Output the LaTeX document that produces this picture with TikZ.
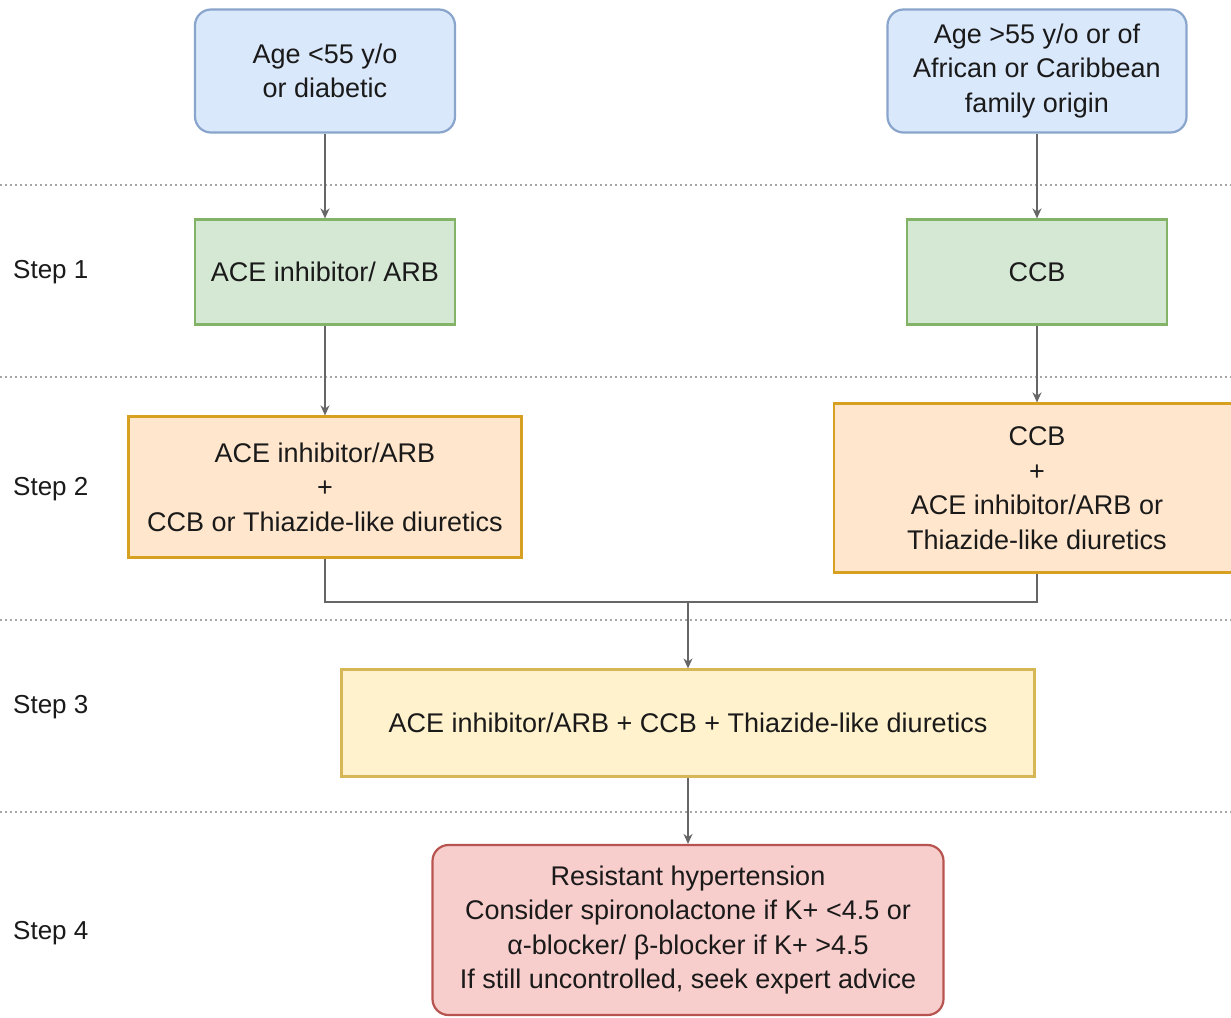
\documentclass[tikz,border=0pt]{standalone}
\usepackage{fontspec}
\setmainfont{Liberation Sans}
\usetikzlibrary{arrows.meta}
\definecolor{bluef}{HTML}{DAE8FC}\definecolor{blued}{HTML}{6C8EBF}
\definecolor{greenf}{HTML}{D5E8D4}\definecolor{greend}{HTML}{82B366}
\definecolor{orangef}{HTML}{FFE6CC}\definecolor{oranged}{HTML}{D7A020}
\definecolor{yellowf}{HTML}{FFF2CC}\definecolor{yellowd}{HTML}{D6B656}
\definecolor{redf}{HTML}{F8CECC}\definecolor{redd}{HTML}{B85450}
\definecolor{txt}{HTML}{1A1A1A}
\tikzset{
  box/.style={draw, line width=2.2pt, align=center, inner sep=0pt, text=txt,
    font=\fontsize{27}{34.5}\selectfont},
  bluebox/.style={box, fill=bluef, draw=blued!80, rounded corners=16pt},
  greenbox/.style={box, fill=greenf, draw=greend},
  orangebox/.style={box, fill=orangef, draw=oranged},
  yellowbox/.style={box, fill=yellowf, draw=yellowd},
  redbox/.style={box, fill=redf, draw=redd, rounded corners=16pt},
  steplabel/.style={anchor=west, text=txt, font=\fontsize{26}{30}\selectfont, inner sep=0pt},
  sep/.style={draw=gray!70, line width=2pt, dash pattern=on 2pt off 3pt},
  conn/.style={draw=black!60, line width=2pt, -{Stealth[length=10pt,width=9pt]}},
  plain/.style={draw=black!60, line width=2pt},
}
\begin{document}
\begin{tikzpicture}[x=1pt,y=-1pt]
\useasboundingbox[fill=white] (0,0) rectangle (1231,1017);
% separators
\foreach \yy in {185,377,620,812}{\draw[sep] (0,\yy) -- (1231,\yy);}
% step labels
\node[steplabel] (s1) at (13,272) {Step 1};
\node[steplabel] (s2) at (13,489) {Step 2};
\node[steplabel] (s3) at (13,707) {Step 3};
\node[steplabel] (s4) at (13,933) {Step 4};
% nodes
\node[bluebox, minimum width=260pt, minimum height=123pt] (a1) at (325,71) {Age <55 y/o\\or diabetic};
\node[bluebox, minimum width=299pt, minimum height=123pt] (b1) at (1037,71) {Age >55 y/o or of\\African or Caribbean\\family origin};
\node[greenbox, minimum width=260pt, minimum height=105pt] (a2) at (325,272) {ACE inhibitor/ ARB};
\node[greenbox, minimum width=260pt, minimum height=105pt] (b2) at (1037,272) {CCB};
\node[orangebox, minimum width=393pt, minimum height=141pt] (a3) at (325,487) {ACE inhibitor/ARB\\+\\CCB or Thiazide-like diuretics};
\node[orangebox, minimum width=406pt, minimum height=169pt] (b3) at (1037,488) {CCB\\+\\ACE inhibitor/ARB or\\Thiazide-like diuretics};
\node[yellowbox, minimum width=693pt, minimum height=107pt] (c) at (688,723) {ACE inhibitor/ARB + CCB + Thiazide-like diuretics};
\node[redbox, minimum width=511pt, minimum height=170pt] (d) at (688,930) {Resistant hypertension\\Consider spironolactone if K+ <4.5 or\\α-blocker/ β-blocker if K+ >4.5\\If still uncontrolled, seek expert advice};
\coordinate (m) at (688,602);
% connectors
\draw[conn] (a1) -- (a2);
\draw[conn] (b1) -- (b2);
\draw[conn] (a2) -- (a3);
\draw[conn] (b2) -- (b3);
\draw[plain] (a3.south) |- (m) -| (b3.south);
\draw[conn] (m) -- (c);
\draw[conn] (c) -- (d);
\end{tikzpicture}
\end{document}
